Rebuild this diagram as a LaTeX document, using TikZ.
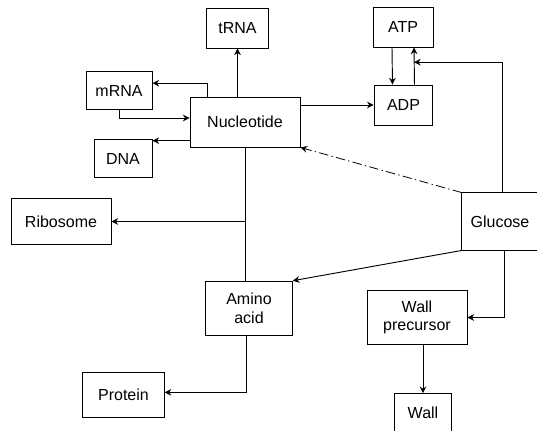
\documentclass[tikz,border=0pt]{standalone}
\usepackage{fontspec}
\setmainfont{Liberation Sans}
\usetikzlibrary{arrows.meta}

\begin{document}
\begin{tikzpicture}[
    x=0.75pt, y=-0.75pt,
    font=\fontsize{12}{14}\selectfont,
    box/.style={draw, line width=0.7pt, align=center, inner sep=2pt},
    arr/.style={-{Stealth[length=5pt,width=5pt]}, line width=0.7pt},
    ln/.style={line width=0.7pt},
    darr/.style={-{Stealth[length=5pt,width=5pt]}, line width=0.6pt,
                 dash pattern=on 7pt off 2.5pt on 1pt off 2.5pt}
]
    \node[box, minimum width=46pt, minimum height=30pt] (trna) at (237.5,28) {tRNA};
    \node[box, minimum width=45pt, minimum height=30pt] (atp) at (403,27) {ATP};
    \node[box, minimum width=44pt, minimum height=30pt] (adp) at (403.5,105) {ADP};
    \node[box, minimum width=49.5pt, minimum height=29pt] (mrna) at (119,90.5) {mRNA};
    \node[box, minimum width=82.5pt, minimum height=37.5pt] (nuc) at (245,122) {Nucleotide};
    \node[box, minimum width=43.5pt, minimum height=29pt] (dna) at (123,158.5) {DNA};
    \node[box, minimum width=75pt, minimum height=34pt] (ribo) at (61,221.5) {Ribosome};
    \node[box, minimum width=65pt, minimum height=41pt] (amino) at (249,308.5) {Amino\\acid};
    \node[box, minimum width=61pt, minimum height=34pt] (protein) at (123.5,395) {Protein};
    \node[box, minimum width=75pt, minimum height=41pt] (wallp) at (417,317.5) {Wall\\precursor};
    \node[box, minimum width=43pt, minimum height=29pt] (wall) at (423,413) {Wall};
    \node[minimum width=57pt, minimum height=43pt] (glucose) at (500,221.5) {Glucose};

    % open box round glucose
    \draw[ln] ([xshift=20pt]glucose.north east) -- (glucose.north west)
        -- (glucose.south west) -- ([xshift=20pt]glucose.south east);

    \coordinate (nucdna) at ([yshift=-14pt]nuc.west);
    \coordinate (jn) at ([xshift=8.25pt,yshift=-11pt]atp.south);

    \draw[arr] (nuc.north -| trna.south) -- (trna.south);
    \draw[arr] ([xshift=13.5pt]nuc.north west) |- ([yshift=5.5pt]mrna.east);
    \draw[arr] (mrna.south) |- ([yshift=3pt]nuc.west);
    \draw[arr] (nucdna) -- (nucdna -| dna.east);
    \draw[arr] (adp.west -| nuc.east) -- (adp.west);
    \draw[arr] ([xshift=-8.25pt]atp.south) -- ([xshift=-8.25pt]adp.north);
    \draw[arr] ([xshift=8.25pt]adp.north) -- ([xshift=8.25pt]atp.south);
    \draw[arr] ([xshift=1.5pt]glucose.north) |- (jn);

    \draw[ln] (nuc.south) -- (nuc.south |- amino.north);
    \draw[arr] (ribo.east -| nuc.south) -- (ribo.east);
    \draw[arr] ([xshift=-2pt]amino.south) |- ([yshift=2pt]protein.east);

    \draw[darr] (glucose.north west) -- (nuc.south east);
    \draw[arr] (glucose.south west) -- (amino.north east);
    \draw[arr] ([xshift=3pt]glucose.south) |- (wallp.east);
    \draw[arr] (wall.north |- wallp.south) -- (wall.north);

    \pgfresetboundingbox
    \path[use as bounding box] (0,0) rectangle (537,430);
\end{tikzpicture}
\end{document}
